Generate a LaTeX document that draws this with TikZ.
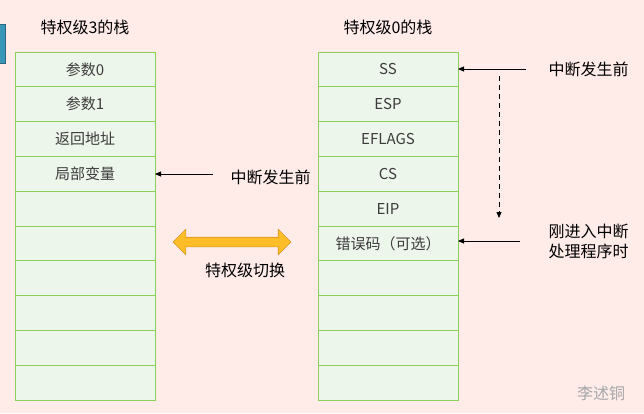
\documentclass[tikz,border=0pt]{standalone}
\usepackage{fontspec}
\setmainfont{Noto Sans CJK SC}
\usepackage{tikz}
\usetikzlibrary{positioning, calc, arrows.meta, shapes.arrows}

\definecolor{bgpink}{RGB}{255,236,233}
\definecolor{cellfill}{RGB}{237,246,234}
\definecolor{cellline}{RGB}{140,208,90}
\definecolor{celltext}{RGB}{60,60,60}
\definecolor{swapfill}{RGB}{255,190,40}
\definecolor{swapline}{RGB}{215,150,30}
\definecolor{tabblue}{RGB}{58,150,183}

\tikzset{
    cell/.style={draw=cellline, fill=cellfill, line width=0.9pt, minimum width=140pt,
        minimum height=34.8pt, inner sep=0pt, outer sep=0pt, text=celltext,
        font=\fontsize{15}{17}\selectfont},
    lbl/.style={font=\fontsize{16}{20}\selectfont, align=left},
    pointer/.style={-{Triangle[width=5pt,length=6pt]}, line width=0.8pt}
}

\begin{document}
\begin{tikzpicture}[x=1pt, y=-1pt]

    % ================= background =================
    \useasboundingbox (0,0) rectangle (644,413);
    \fill[bgpink] (0,0) rectangle (644,413);
    \filldraw[fill=tabblue, draw=tabblue!70!black] (-2,24) rectangle (5,63);

    % ================= ring 3 stack =================
    \node[lbl] (ltitle) at (85,27) {特权级3的栈};
    \node[cell, anchor=north west] (L1) at (15,52) {参数0};
    \foreach \i/\t [remember=\i as \prev (initially 1)] in {2/参数1, 3/返回地址, 4/局部变量, 5/, 6/, 7/, 8/, 9/, 10/}
        \node[cell, below=0pt of L\prev] (L\i) {\t};

    % ================= ring 0 stack =================
    \node[lbl] (rtitle) at (388,27) {特权级0的栈};
    \node[cell, anchor=north west] (R1) at (318,52) {SS};
    \foreach \i/\t [remember=\i as \prev (initially 1)] in {2/ESP, 3/EFLAGS, 4/CS, 5/EIP, 6/错误码（可选）, 7/, 8/, 9/, 10/}
        \node[cell, below=0pt of R\prev] (R\i) {\t};

    % ================= pointers =================
    \node[lbl, anchor=west] (lbefore) at (227,177) {中断发生前};
    \draw[pointer, shorten <=14pt] ([yshift=3pt]lbefore.west) -- ([yshift=3pt]lbefore.west -| L4.east);

    \node[lbl, anchor=west] (rbefore) at (545,69) {中断发生前};
    \draw[pointer, shorten <=19pt] (rbefore.west) -- (rbefore.west -| R1.east);

    \node[lbl, anchor=west] (rafter) at (545,241) {刚进入中断\\处理程序时};
    \draw[pointer, shorten <=25pt] (rafter.west) -- (rafter.west -| R6.east);

    % moves down while the handler is entered
    \coordinate (dtop) at (499,76);
    \coordinate (dbot) at (499,218);
    \draw[pointer, dash pattern=on 5pt off 4pt] (dtop) -- (dbot);

    % ================= privilege switch =================
    \node[double arrow, fill=swapfill, draw=swapline, line width=0.6pt, minimum width=25pt,
        minimum height=118pt, double arrow head extend=8pt, inner xsep=0pt, inner ysep=4.5pt] (swap) at (232,242) {};
    \node[lbl] (swaplbl) at (245,270) {特权级切换};

    % watermark
    \node[lbl, text=gray!70] (mark) at (601,393) {李述铜};

\end{tikzpicture}
\end{document}
